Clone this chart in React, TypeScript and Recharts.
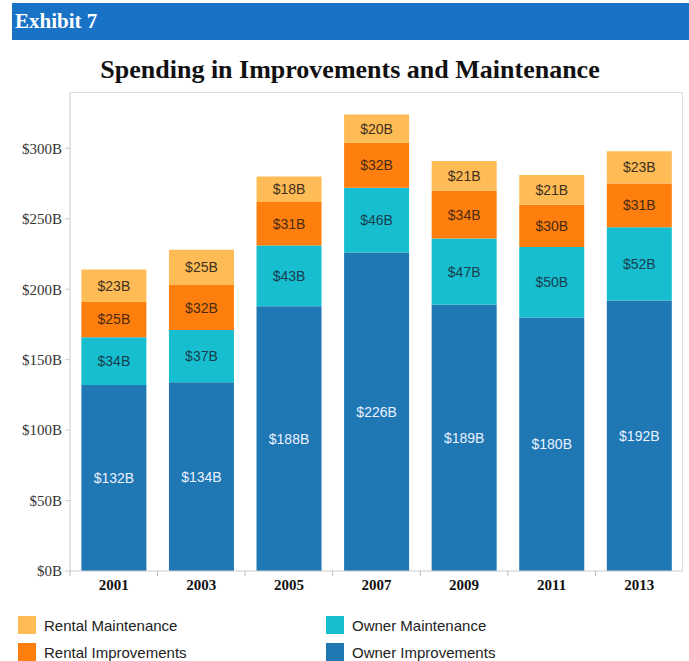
import React from "react";
import { BarChart, Bar, XAxis, YAxis, LabelList } from "recharts";

const years = ["2001", "2003", "2005", "2007", "2009", "2011", "2013"];
const ownerImprovements = [132, 134, 188, 226, 189, 180, 192];
const ownerMaintenance = [34, 37, 43, 46, 47, 50, 52];
const rentalImprovements = [25, 32, 31, 32, 34, 30, 31];
const rentalMaintenance = [23, 25, 18, 20, 21, 21, 23];
const yTicks = [0, 50, 100, 150, 200, 250, 300];

const data = years.map((y, i) => ({
  year: y,
  ownerImprovements: ownerImprovements[i],
  ownerMaintenance: ownerMaintenance[i],
  rentalImprovements: rentalImprovements[i],
  rentalMaintenance: rentalMaintenance[i],
}));

const COLORS = {
  ownerImprovements: "#1F77B4",
  ownerMaintenance: "#17BECF",
  rentalImprovements: "#FF7F0E",
  rentalMaintenance: "#FFBB55",
};

const SERIF = '"Liberation Serif", "Times New Roman", serif';
const SANS = '"Liberation Sans", Arial, sans-serif';

const CHART_W = 689;
const CHART_H = 600;
const PLOT_LEFT = 70;
const PLOT_RIGHT = 683;
const PLOT_TOP = 92;
const PLOT_BOTTOM = 571;
const BAND = (PLOT_RIGHT - PLOT_LEFT) / years.length;

const fmt = (v: any) => `$${v}B`;

const XTick = (props: any) => {
  const { x, y, payload } = props;
  return (
    <g>
      <line x1={x - BAND / 2} x2={x - BAND / 2} y1={y} y2={y + 5} stroke="#bbb" />
      <text
        x={x}
        y={y + 19}
        textAnchor="middle"
        fontFamily={SERIF}
        fontWeight="bold"
        fontSize={15}
        fill="#111"
      >
        {payload.value}
      </text>
    </g>
  );
};

const legendItems = [
  { key: "rentalMaintenance", label: "Rental Maintenance", left: 18, top: 616 },
  { key: "ownerMaintenance", label: "Owner Maintenance", left: 326, top: 616 },
  { key: "rentalImprovements", label: "Rental Improvements", left: 18, top: 643 },
  { key: "ownerImprovements", label: "Owner Improvements", left: 326, top: 643 },
];

export default function App() {
  return (
    <div
      style={{
        position: "absolute",
        left: 0,
        top: 0,
        width: 689,
        height: 661,
        background: "#fff",
        overflow: "hidden",
      }}
    >
      <div
        style={{
          position: "absolute",
          left: 12,
          top: 3,
          width: 677,
          height: 37,
          background: "#1872C6",
          color: "#fff",
          fontFamily: SERIF,
          fontWeight: "bold",
          fontSize: 21,
          lineHeight: "37px",
          paddingLeft: 3,
          boxSizing: "border-box",
        }}
      >
        Exhibit 7
      </div>
      <div
        style={{
          position: "absolute",
          left: 0,
          top: 52,
          width: 700,
          textAlign: "center",
          fontFamily: SERIF,
          fontWeight: "bold",
          fontSize: 26,
          lineHeight: "36px",
          color: "#111",
        }}
      >
        Spending in Improvements and Maintenance
      </div>
      <div style={{ position: "absolute", left: 0, top: 0 }}>
        <BarChart
          width={CHART_W}
          height={CHART_H}
          data={data}
          margin={{ top: PLOT_TOP, right: CHART_W - PLOT_RIGHT, left: 0, bottom: 0 }}
          barCategoryGap="13%"
        >
          <XAxis
            dataKey="year"
            height={CHART_H - PLOT_BOTTOM}
            tick={<XTick />}
            tickLine={false}
            tickSize={0}
            tickMargin={0}
            axisLine={{ stroke: "#ccc" }}
            interval={0}
          />
          <YAxis
            width={PLOT_LEFT}
            domain={[0, 340]}
            ticks={yTicks}
            tickFormatter={fmt}
            tickSize={5}
            tickMargin={3}
            tickLine={{ stroke: "#ccc" }}
            axisLine={{ stroke: "#ccc" }}
            tick={{ fontFamily: SERIF, fontSize: 15, fill: "#333" }}
          />
          <Bar dataKey="ownerImprovements" stackId="a" fill={COLORS.ownerImprovements} isAnimationActive={false}>
            <LabelList dataKey="ownerImprovements" position="center" formatter={fmt} fill="#EAF2FF" fontFamily={SANS} fontSize={14} />
          </Bar>
          <Bar dataKey="ownerMaintenance" stackId="a" fill={COLORS.ownerMaintenance} isAnimationActive={false}>
            <LabelList dataKey="ownerMaintenance" position="center" formatter={fmt} fill="#17404F" fontFamily={SANS} fontSize={14} />
          </Bar>
          <Bar dataKey="rentalImprovements" stackId="a" fill={COLORS.rentalImprovements} isAnimationActive={false}>
            <LabelList dataKey="rentalImprovements" position="center" formatter={fmt} fill="#4A2A12" fontFamily={SANS} fontSize={14} />
          </Bar>
          <Bar dataKey="rentalMaintenance" stackId="a" fill={COLORS.rentalMaintenance} isAnimationActive={false}>
            <LabelList dataKey="rentalMaintenance" position="center" formatter={fmt} fill="#3E3020" fontFamily={SANS} fontSize={14} />
          </Bar>
        </BarChart>
      </div>
      <div
        style={{
          position: "absolute",
          left: PLOT_LEFT,
          top: PLOT_TOP,
          width: PLOT_RIGHT - PLOT_LEFT,
          height: PLOT_BOTTOM - PLOT_TOP,
          border: "1px solid #ddd",
          borderBottom: "none",
          borderLeft: "none",
          boxSizing: "border-box",
          pointerEvents: "none",
        }}
      />
      {legendItems.map((it) => (
        <div
          key={it.key}
          style={{
            position: "absolute",
            left: it.left,
            top: it.top,
            height: 18,
            display: "flex",
            alignItems: "center",
            fontFamily: SANS,
            fontSize: 15,
            color: "#222",
          }}
        >
          <div
            style={{
              width: 18,
              height: 18,
              background: (COLORS as any)[it.key],
              marginRight: 8,
            }}
          />
          {it.label}
        </div>
      ))}
    </div>
  );
}
